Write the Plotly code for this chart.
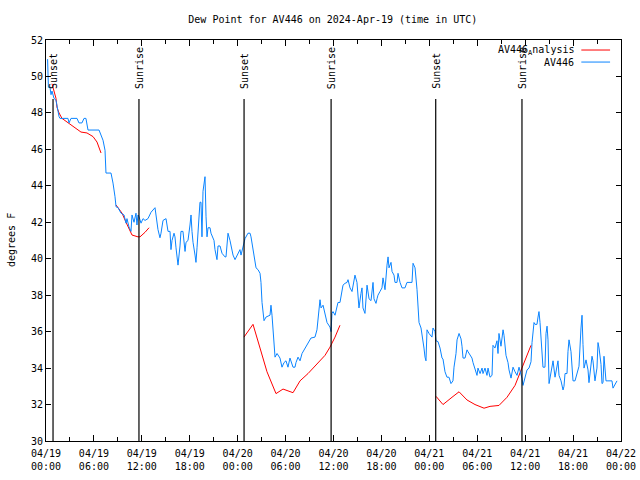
import pandas as pd
import plotly.graph_objects as go

# ---------------- data ----------------
start_time = "2024-04-19 00:00"

# AV446 observed dew point (hours since 04/19 00:00 UTC, degF)
obs_hours = [0.2, 0.3, 0.5, 0.63, 0.75, 1.0, 1.25, 1.38, 1.5, 1.63, 1.75, 2.75, 2.88, 3.13, 3.88, 4.13, 4.5, 4.76, 5.0, 5.26,
             6.64, 6.89, 7.14, 7.39, 7.45, 7.51, 8.14, 8.26, 8.39, 8.64, 8.77, 9.02, 9.39, 9.77, 10.02, 10.14, 10.39, 10.64,
             10.77, 11.02, 11.27, 11.39, 11.52, 11.65, 11.9, 12.15, 12.4, 12.77, 13.15, 13.65, 13.77, 14.02, 14.27, 14.4,
             14.65, 15.03, 15.28, 15.53, 15.65, 15.78, 16.03, 16.15, 16.28, 16.53, 16.78, 16.9, 17.15, 17.41, 17.53, 17.78,
             18.03, 18.16, 18.28, 18.41, 18.66, 18.78, 18.91, 19.16, 19.28, 19.41, 19.53, 19.66, 19.91, 20.04, 20.16, 20.29,
             20.54, 20.66, 21.04, 21.16, 21.41, 21.54, 21.79, 22.04, 22.41, 22.54, 22.79, 23.04, 23.17, 23.42, 23.67, 24.04,
             24.29, 24.42, 24.67, 24.79, 24.92, 25.29, 25.55, 25.67, 25.92, 26.17, 26.3, 26.55, 26.8, 26.92, 27.05, 27.3,
             27.55, 28.05, 28.17, 28.3, 28.55, 28.68, 28.93, 29.3, 29.55, 29.8, 30.05, 30.3, 30.55, 30.68, 30.93, 31.18,
             31.3, 31.56, 31.81, 32.06, 32.43, 32.81, 33.18, 33.68, 33.93, 34.31, 34.44, 34.69, 34.94, 35.19, 35.56, 35.69,
             35.81, 35.94, 36.19, 36.44, 36.56, 36.81, 37.07, 37.19, 37.44, 37.69, 37.82, 38.07, 38.32, 38.44, 38.69, 38.94,
             39.07, 39.19, 39.44, 39.57, 39.69, 39.94, 40.2, 40.32, 40.45, 40.7, 40.95, 41.07, 41.32, 41.45, 41.57, 41.82,
             42.07, 42.2, 42.45, 42.7, 42.83, 42.95, 43.2, 43.33, 43.58, 43.7, 43.95, 44.08, 44.33, 44.58, 44.95, 45.2,
             45.83, 45.96, 46.21, 46.46, 46.58, 46.71, 46.96, 47.21, 47.33, 47.46, 47.58, 47.71, 47.96, 48.33, 48.46, 48.71,
             48.84, 49.09, 49.34, 49.59, 49.71, 49.96, 50.21, 50.46, 50.71, 50.96, 51.09, 51.34, 51.47, 51.72, 51.97, 52.09,
             52.22, 52.47, 52.72, 52.84, 53.09, 53.34, 53.47, 53.72, 53.97, 54.09, 54.35, 54.6, 54.72, 54.97, 55.22, 55.35,
             55.6, 55.85, 55.97, 56.22, 56.47, 56.6, 56.72, 56.97, 57.23, 57.35, 57.6, 57.85, 57.98, 58.23, 58.48, 58.73,
             58.98, 59.23, 59.6, 59.73, 59.85, 60.11, 60.23, 60.48, 60.73, 60.86, 60.98, 61.11, 61.23, 61.48, 61.61, 61.73,
             61.86, 62.11, 62.23, 62.48, 62.61, 62.74, 62.86, 62.99, 63.24, 63.36, 63.49, 63.74, 63.99, 64.11, 64.24, 64.49,
             64.74, 64.86, 64.99, 65.24, 65.36, 65.49, 65.74, 65.87, 65.99, 66.24, 66.49, 66.74, 66.99, 67.12, 67.24, 67.37,
             67.62, 67.87, 67.99, 68.24, 68.37, 68.49, 68.74, 68.99, 69.12, 69.25, 69.5, 69.62, 69.75, 69.87, 70.12, 70.37,
             70.87, 71.0, 71.25, 71.5]
obs_values = [50.95, 49.4, 49.4, 49.0, 49.2, 48.8, 48.7, 48.3, 48.2, 47.8, 47.7, 47.7, 47.45, 47.7, 47.7, 47.45, 47.45, 47.7, 47.7, 47.06,
              47.06, 46.8, 46.5, 45.95, 45.0, 44.7, 44.7, 44.5, 44.15, 43.4, 42.85, 42.8, 42.5, 42.4, 41.95, 42.2, 41.75, 41.5,
              42.4, 42.0, 42.5, 41.85, 42.4, 42.3, 41.95, 42.2, 42.1, 42.2, 42.55, 42.8, 42.3, 41.6, 41.15, 41.4,
              42.1, 42.2, 41.5, 41.5, 40.5, 41.0, 41.4, 41.2, 40.6, 39.65, 40.7, 41.5, 41.5, 40.4, 40.9, 41.0,
              41.85, 42.4, 41.5, 40.9, 40.2, 39.8, 40.6, 42.1, 43.1, 43.1, 41.2, 43.7, 44.5, 42.3, 41.2, 41.7,
              41.7, 41.4, 41.0, 40.5, 39.95, 40.7, 40.7, 40.3, 40.1, 40.1, 41.4, 41.0, 40.7, 40.2, 39.95, 40.3,
              40.5, 40.2, 40.6, 40.9, 41.1, 41.4, 41.4, 41.2, 40.5, 39.75, 39.5, 39.4, 39.2, 38.7, 37.6, 36.6,
              36.8, 36.9, 37.45, 36.9, 35.55, 34.6, 34.8, 34.55, 34.05, 34.3, 34.4, 34.05, 34.55, 34.4, 34.05, 34.05,
              34.3, 34.6, 34.4, 34.8, 35.1, 35.4, 35.65, 35.7, 36.1, 37.75, 37.3, 37.45, 36.9, 36.5, 36.25, 36.0,
              37.0, 37.1, 36.9, 37.35, 37.6, 37.6, 38.4, 38.55, 38.65, 38.7, 38.85, 38.4, 38.2, 38.5, 39.1, 38.7,
              37.6, 37.3, 38.1, 38.4, 37.3, 37.0, 38.55, 38.0, 37.8, 37.7, 38.7, 37.8, 37.55, 37.8, 38.0, 38.2,
              38.4, 38.95, 38.3, 39.65, 40.1, 39.5, 39.8, 39.3, 39.1, 38.7, 38.7, 39.2, 38.7, 38.4, 38.4, 38.7,
              38.7, 39.75, 39.5, 38.3, 37.2, 36.5, 36.2, 35.55, 35.1, 34.6, 34.4, 36.1, 35.9, 35.7, 36.2, 36.0,
              35.5, 35.45, 35.1, 34.55, 34.5, 33.8, 33.5, 33.5, 33.15, 33.3, 34.05, 34.8, 35.55, 35.9, 35.6, 35.2,
              34.55, 34.55, 35.0, 34.9, 34.7, 34.55, 34.3, 33.9, 33.6, 34.0, 33.7, 34.0, 33.7, 34.0, 33.6, 34.0,
              33.5, 33.6, 35.25, 35.1, 35.5, 34.8, 35.9, 35.2, 36.1, 35.8, 34.7, 34.3, 33.9, 33.45, 34.05, 33.8,
              33.6, 34.05, 33.45, 33.05, 33.3, 33.65, 33.9, 34.0, 34.35, 35.4, 36.2, 36.5, 36.4, 36.4, 36.8, 37.1,
              36.5, 34.35, 34.05, 34.05, 35.9, 36.3, 35.55, 33.15, 33.8, 34.2, 34.4, 33.5, 34.1, 34.4, 33.6, 33.3,
              32.8, 33.0, 33.7, 33.7, 34.9, 35.55, 34.9, 34.0, 33.3, 33.3, 33.7, 34.1, 36.2, 36.9, 35.3, 34.0,
              34.45, 33.9, 33.2, 34.3, 34.65, 34.4, 33.3, 34.0, 35.4, 35.1, 34.2, 33.15, 33.2, 34.65, 33.3, 33.3,
              33.3, 32.9, 33.1, 33.3]

# AV446 analysis (None = gap between analysis windows)
ana_hours = [0.75, 1.0, 1.25, 1.38, 1.63, 2.0, 2.63, 3.5, 4.38, 5.13, 5.89, 6.39, 6.89, 7.8,
             8.77, 9.14, 9.52, 10.02, 10.39, 10.77, 11.52, 11.77, 12.4, 12.9, 18.0,
             24.79, 25.92, 26.8, 27.67, 28.8, 29.68, 30.93, 31.81, 32.81, 33.93, 34.94, 35.56, 36.19, 36.81, 42.0,
             48.84, 49.71, 50.84, 51.72, 52.72, 53.72, 54.85, 55.6, 56.72, 57.73, 58.73, 59.6, 60.23, 60.73]
ana_values = [49.6, 49.25, 48.8, 48.3, 48.0, 47.7, 47.5, 47.2, 46.95, 46.9, 46.7, 46.4, 45.8, None,
              42.95, 42.7, 42.5, 42.0, 41.6, 41.3, 41.2, 41.2, 41.45, 41.7, None,
              35.7, 36.4, 35.1, 33.8, 32.6, 32.85, 32.65, 33.3, 33.7, 34.2, 34.7, 35.15, 35.7, 36.35, None,
              32.45, 32.0, 32.4, 32.7, 32.25, 32.0, 31.8, 31.9, 31.95, 32.4, 33.05, 34.0, 34.6, 35.25]

# sunset / sunrise events (hours since start)
sun_hours = [0.88, 11.64, 24.8, 35.7, 48.8, 59.6]
sun_labels = ["Sunset", "Sunrise", "Sunset", "Sunrise", "Sunset", "Sunrise"]

x_tick_hours = list(range(0, 73, 6))
y_ticks = list(range(30, 53, 2))

# ---------------- figure ----------------
t0 = pd.Timestamp(start_time)
to_time = lambda hs: [None if h is None else t0 + pd.Timedelta(hours=h) for h in hs]

obs_t = to_time(obs_hours)
ana_t = to_time(ana_hours)
sun_t = to_time(sun_hours)
tick_t = to_time(x_tick_hours)
tick_txt = [t.strftime("%m/%d") + "<br>" + t.strftime("%H:%M") for t in tick_t]

FONT = "DejaVu Sans Mono"
RED = "#ff0000"
BLUE = "#0a84ff"

fig = go.Figure()
fig.add_trace(go.Scatter(x=ana_t, y=ana_values, mode="lines", line=dict(color=RED, width=1),
                         connectgaps=False, name="AV446_Analysis", showlegend=False))
fig.add_trace(go.Scatter(x=obs_t, y=obs_values, mode="lines", line=dict(color=BLUE, width=1),
                         name="AV446", showlegend=False))

line_top = 48.76
for t, lab in zip(sun_t, sun_labels):
    fig.add_shape(type="line", xref="x", yref="y", x0=t, x1=t, y0=30, y1=line_top,
                  line=dict(color="black", width=1.2))
    fig.add_annotation(x=t, y=49.2, xref="x", yref="y", text=lab, textangle=-90,
                       showarrow=False, xanchor="center", yanchor="bottom",
                       font=dict(family=FONT, size=10, color="black"))

# legend (gnuplot style: text then line sample)
legend_items = [("AV446<sub>A</sub>nalysis", RED, 0.975), ("AV446", BLUE, 0.945)]
for txt, col, yy in legend_items:
    fig.add_annotation(x=0.921, y=yy, xref="paper", yref="paper", text=txt, showarrow=False,
                       xanchor="right", yanchor="middle", font=dict(family=FONT, size=10, color="black"))
    fig.add_shape(type="line", xref="paper", yref="paper", x0=0.931, x1=0.981, y0=yy, y1=yy,
                  line=dict(color=col, width=1))

fig.add_annotation(x=-0.06, y=0.5, xref="paper", yref="paper", text="degrees F", textangle=-90,
                   showarrow=False, xanchor="center", yanchor="middle",
                   font=dict(family=FONT, size=10, color="black"))

fig.update_layout(
    width=640, height=480,
    margin=dict(l=46, r=19, t=40, b=39, autoexpand=False),
    paper_bgcolor="white", plot_bgcolor="white",
    title=dict(text="Dew Point for AV446 on 2024-Apr-19 (time in UTC)", x=0.52, xanchor="center",
               yref="container", y=1 - 19 / 480, yanchor="middle",
               font=dict(family=FONT, size=10, color="black")),
    font=dict(family=FONT, size=10, color="black"),
    showlegend=False,
)
fig.update_xaxes(
    range=[tick_t[0], tick_t[-1]], tickvals=tick_t, ticktext=tick_txt, automargin=False,
    showline=True, linecolor="black", linewidth=1, mirror="allticks",
    ticks="inside", ticklen=6, tickcolor="black", showgrid=False, zeroline=False,
    ticklabelstandoff=3,
    minor=dict(dtick=3 * 3600 * 1000, ticks="inside", ticklen=4, tickcolor="black", showgrid=False),
    tickfont=dict(family=FONT, size=10, color="black"),
)
fig.update_yaxes(
    range=[30, 52], tickvals=y_ticks, automargin=False,
    showline=True, linecolor="black", linewidth=1, mirror="allticks",
    ticks="inside", ticklen=5, tickcolor="black", showgrid=False, zeroline=False,
    tickfont=dict(family=FONT, size=10, color="black"),
)

fig.write_html("out.html", config={"displayModeBar": False},
               post_script="document.body.style.margin='0';document.body.style.overflow='hidden';")
